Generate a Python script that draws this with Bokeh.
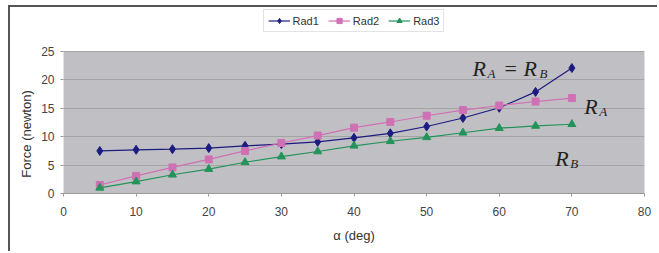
from bokeh.plotting import figure
from bokeh.models import Legend, LegendItem, Label, FixedTicker, Range1d, BoxAnnotation
from bokeh.embed import file_html
from bokeh.resources import INLINE

angles = [5, 10, 15, 20, 25, 30, 35, 40, 45, 50, 55, 60, 65, 70]
rad1 = [7.5, 7.7, 7.8, 8.0, 8.4, 8.7, 9.1, 9.8, 10.6, 11.8, 13.3, 15.1, 17.9, 22.1]
rad2 = [1.5, 3.1, 4.6, 6.0, 7.5, 8.9, 10.2, 11.6, 12.6, 13.7, 14.7, 15.5, 16.2, 16.8]
rad3 = [1.0, 2.1, 3.3, 4.3, 5.5, 6.5, 7.4, 8.4, 9.2, 9.9, 10.7, 11.5, 11.9, 12.2]
series_names = ["Rad1", "Rad2", "Rad3"]
x_ticks = [0, 10, 20, 30, 40, 50, 60, 70, 80]
y_ticks = [0, 5, 10, 15, 20, 25]
x_min, x_max = 0, 80
y_min, y_max = 0, 25

FONT = "Liberation Sans"
SERIF = "Liberation Serif"

# frame extends above the plot area to host the legend (legend space = 42px)
y_top = y_max + 42 / (141.7 / (y_max - y_min))

p = figure(width=649, height=246, output_backend="svg", toolbar_location=None,
           x_range=Range1d(x_min, x_max), y_range=Range1d(y_min, y_top))
p.styles = {"margin-left": "8px", "margin-top": "5px",
            "border-top": "2px solid #555555", "border-left": "2px solid #555555"}
p.min_border_left = 53
p.min_border_right = 15
p.min_border_top = 2
p.min_border_bottom = 60
p.background_fill_color = "white"
p.border_fill_color = "white"
p.outline_line_color = None

# grey plot area
p.add_layout(BoxAnnotation(left=x_min, right=x_max, bottom=y_min, top=y_max,
                           fill_color="#c0c0c4", fill_alpha=1.0,
                           line_color="#9a9a9a", line_width=1, level="image"))

p.xaxis.ticker = FixedTicker(ticks=x_ticks)
p.yaxis.ticker = FixedTicker(ticks=y_ticks)
for ax in (p.xaxis[0], p.yaxis[0]):
    ax.major_label_text_font = FONT
    ax.major_label_text_font_size = "12px"
    ax.major_label_text_color = "#444444"
    ax.axis_label_text_font = FONT
    ax.axis_label_text_font_size = "13px"
    ax.axis_label_text_font_style = "normal"
    ax.axis_label_text_color = "#333333"
    ax.major_tick_line_color = "#9a9a9a"
    ax.major_tick_out = 3
    ax.major_tick_in = 0
    ax.minor_tick_line_color = None
p.xaxis.axis_line_color = "#9a9a9a"
p.yaxis.axis_line_color = None
p.xaxis.axis_label = "α (deg)"
p.yaxis.axis_label = "Force (newton)" + "\u00a0" * 18
p.xaxis.major_label_standoff = 10
p.yaxis.major_label_standoff = 6
p.xaxis.axis_label_standoff = 9
p.yaxis.axis_label_standoff = 4

p.xgrid.grid_line_color = None
p.ygrid.grid_line_color = "#a4a4a4"

colors = ["#1c1c80", "#d070b4", "#23935a"]
markers = ["diamond", "square", "triangle"]
sizes = [9, 7, 8]
items = []
for name, vals, c, m, s in zip(series_names, [rad1, rad2, rad3], colors, markers, sizes):
    r1 = p.line(angles, vals, line_color=c, line_width=1.2)
    r2 = p.scatter(angles, vals, marker=m, size=s, fill_color=c, line_color=c)
    items.append(LegendItem(label=name, renderers=[r1, r2]))

legend = Legend(items=items, orientation="horizontal", location="top_center",
                label_text_font=FONT, label_text_font_size="11px",
                label_text_color="#333333",
                glyph_width=22, glyph_height=13, label_height=13,
                label_standoff=3, spacing=9, padding=4, margin=0,
                border_line_color="#c8c8c8", background_fill_color="white",
                background_fill_alpha=1.0)
p.add_layout(legend, "center")

def math_label(x, y, parts):
    for txt, dx, dy, size, style in parts:
        p.add_layout(Label(x=x, y=y, x_offset=dx, y_offset=dy, text=txt,
                           text_font=SERIF, text_font_size=size,
                           text_font_style=style, text_color="#222222",
                           text_baseline="alphabetic", text_align="left"))

math_label(56.3, 22.0, [("R", 0, 0, "22px", "italic"), ("A", 15, -5, "13px", "italic"),
                        ("=", 32, 0, "22px", "normal"), ("R", 51, 0, "22px", "italic"),
                        ("B", 67, -5, "13px", "italic")])
math_label(71.7, 15.3, [("R", 0, 0, "22px", "italic"), ("A", 15, -5, "13px", "italic")])
math_label(67.7, 6.1, [("R", 0, 0, "22px", "italic"), ("B", 15, -5, "13px", "italic")])

open("out.html", "w").write(file_html(p, INLINE))
